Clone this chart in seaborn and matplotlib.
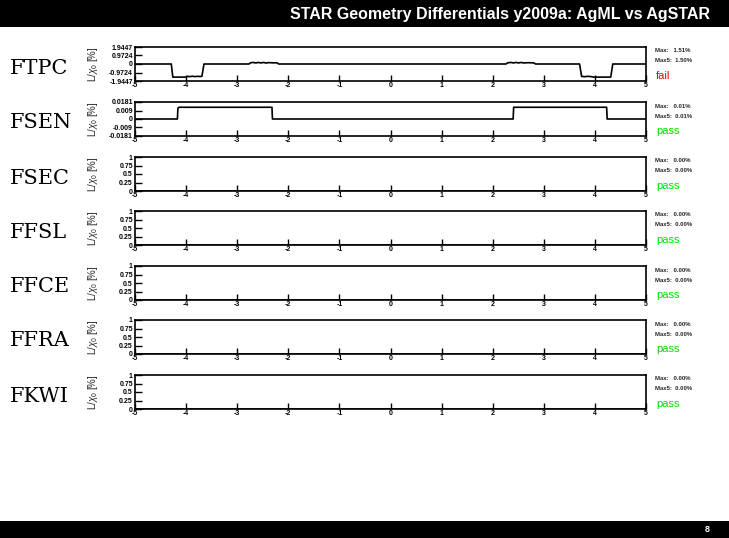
import matplotlib
matplotlib.use("Agg")
import matplotlib.pyplot as plt
import seaborn as sns
import pandas as pd

sns.set_theme(style="white")
plt.rcParams['font.family'] = ['Liberation Sans', 'DejaVu Sans']
plt.rcParams['mathtext.fontset'] = 'custom'
plt.rcParams['mathtext.rm'] = 'Liberation Sans'
plt.rcParams['mathtext.it'] = 'Liberation Sans:italic'

title = "STAR Geometry Differentials y2009a: AgML vs AgSTAR"
page = "8"
detectors = ["FTPC", "FSEN", "FSEC", "FFSL", "FFCE", "FFRA", "FKWI"]
max_vals = ["1.51%", "0.01%", "0.00%", "0.00%", "0.00%", "0.00%", "0.00%"]
max5_vals = ["1.50%", "0.01%", "0.00%", "0.00%", "0.00%", "0.00%", "0.00%"]
status = ["fail", "pass", "pass", "pass", "pass", "pass", "pass"]

x_ticks = [-5, -4, -3, -2, -1, 0, 1, 2, 3, 4, 5]

ftpc_x = [-5.00, -4.29, -4.26, -4.00, -3.98, -3.92, -3.88, -3.82, -3.78, -3.72, -3.69, -3.65,
          -2.77, -2.74, -2.68, -2.64, -2.58, -2.54, -2.48, -2.44, -2.38, -2.30, -2.22, -2.19,
          2.26, 2.29, 2.36, 2.40, 2.46, 2.50, 2.56, 2.60, 2.70, 2.80, 2.84,
          3.70, 3.74, 3.80, 3.86, 3.92, 3.98, 4.31, 4.35, 5.00]
ftpc_y = [0.0, 0.0, -1.50, -1.50, -1.42, -1.44, -1.40, -1.44, -1.41, -1.43, -1.40, 0.0,
          0.0, 0.14, 0.18, 0.12, 0.18, 0.12, 0.18, 0.11, 0.16, 0.13, 0.14, 0.0,
          0.0, 0.13, 0.18, 0.12, 0.18, 0.12, 0.18, 0.12, 0.15, 0.13, 0.0,
          0.0, -1.42, -1.45, -1.41, -1.44, -1.50, -1.50, 0.0, 0.0]

fsen_x = [-5.00, -4.17, -4.16, -4.14, -2.32, -2.31, 2.40, 2.41, 4.23, 4.24, 5.00]
fsen_y = [0.0, 0.0, 0.0115, 0.0125, 0.0125, 0.0, 0.0, 0.0125, 0.0125, 0.0, 0.0]

empty_x = [-5.0, 5.0]
empty_y = [0.0, 0.0]

series = [(ftpc_x, ftpc_y)] + [(fsen_x, fsen_y)] + [(empty_x, empty_y)] * 5

ylims = [1.9447, 0.0181] + [None] * 5
ytick_vals = [[-1.9447, -0.9724, 0, 0.9724, 1.9447],
              [-0.0181, -0.009, 0, 0.009, 0.0181]] + [[0, 0.25, 0.5, 0.75, 1]] * 5
ytick_labels = [["-1.9447", "-0.9724", "0", "0.9724", "1.9447"],
                ["-0.0181", "-0.009", "0", "0.009", "0.0181"]] + [["0", "0.25", "0.5", "0.75", "1"]] * 5

W, H = 729, 538
fig = plt.figure(figsize=(W / 100, H / 100), dpi=100)
fig.patch.set_facecolor("white")

# banners
fig.patches.append(plt.Rectangle((0, 1 - 27 / H), 1, 27 / H, transform=fig.transFigure,
                                 facecolor="black", edgecolor="none", zorder=0))
fig.patches.append(plt.Rectangle((0, 0), 1, 17 / H, transform=fig.transFigure,
                                 facecolor="black", edgecolor="none", zorder=0))
fig.text(710 / W, 1 - 15 / H, title, color="white", fontsize=11.5, fontweight="bold",
         ha="right", va="center")
fig.text(710 / W, 8.5 / H, page, color="white", fontsize=6.5, fontweight="bold",
         ha="right", va="center")

left, right = 135, 646
tops = [47, 102, 157, 211, 266, 320, 375]
ph = 34

for i, name in enumerate(detectors):
    top = tops[i]
    ax = fig.add_axes([left / W, 1 - (top + ph) / H, (right - left) / W, ph / H])
    xs, ys = series[i]
    df = pd.DataFrame({"x": xs, "y": ys})
    sns.lineplot(data=df, x="x", y="y", ax=ax, color="black", linewidth=1.2,
                 estimator=None, sort=False)
    ax.set_xlim(-5, 5)
    if ylims[i] is not None:
        ax.set_ylim(-ylims[i], ylims[i])
    else:
        ax.set_ylim(0, 1)
    ax.set_xticks(x_ticks)
    ax.set_xticklabels([str(v) for v in x_ticks], fontsize=5, fontweight="bold")
    ax.set_yticks(ytick_vals[i])
    ax.set_yticklabels(ytick_labels[i], fontsize=5, fontweight="bold")
    ax.tick_params(axis="y", direction="in", length=5, width=1, pad=1.5,
                   left=True, right=False, colors="black")
    ax.tick_params(axis="x", direction="in", length=4, width=1, pad=0.5,
                   bottom=True, top=False, colors="black")
    for sp in ax.spines.values():
        sp.set_visible(True)
        sp.set_color("black")
        sp.set_linewidth(1.2)
    ax.set_xlabel("")
    ax.set_ylabel(r"L/$\chi_0$ [%]", fontsize=7)
    ax.yaxis.set_label_coords(-0.068, 0.5)
    ax.grid(False)
    ax.set_facecolor("white")

    # detector name on left
    fig.text(10 / W, 1 - (top + ph / 2 + 4) / H, name, fontsize=15,
             family=["DejaVu Serif"], ha="left", va="center", color="black")
    # stats
    fig.text(655 / W, 1 - (top + 4) / H, "Max:   " + max_vals[i], fontsize=4.3,
             fontweight="bold", ha="left", va="center")
    fig.text(655 / W, 1 - (top + 14) / H, "Max5:  " + max5_vals[i], fontsize=4.3,
             fontweight="bold", ha="left", va="center")
    col = "#ff0000" if status[i] == "fail" else "#00e000"
    fig.text(656 / W, 1 - (top + 29) / H, status[i], fontsize=8, color=col,
             ha="left", va="center")

fig.savefig("out.png", dpi=100)
